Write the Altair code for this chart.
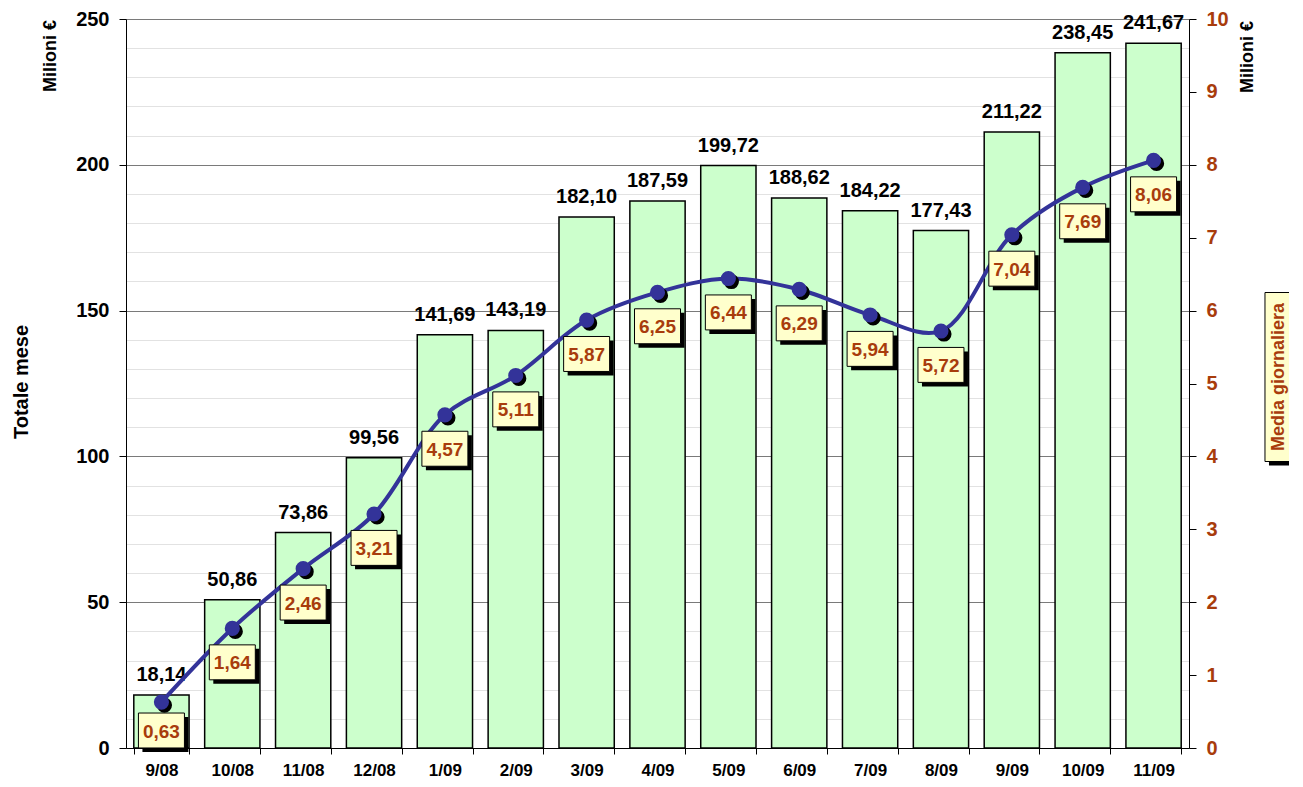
import altair as alt
import pandas as pd

# ---- data ----
mesi = ["9/08", "10/08", "11/08", "12/08", "1/09", "2/09", "3/09", "4/09",
        "5/09", "6/09", "7/09", "8/09", "9/09", "10/09", "11/09"]
totale = [18.14, 50.86, 73.86, 99.56, 141.69, 143.19, 182.10, 187.59,
          199.72, 188.62, 184.22, 177.43, 211.22, 238.45, 241.67]
media = [0.63, 1.64, 2.46, 3.21, 4.57, 5.11, 5.87, 6.25,
         6.44, 6.29, 5.94, 5.72, 7.04, 7.69, 8.06]

left_ticks = list(range(0, 251, 10))
right_ticks = list(range(0, 11))

FONT = "Liberation Sans"
BROWN = "#A83C0C"
BLUE = "#333399"

df = pd.DataFrame({"mese": mesi, "totale": totale, "media": media})
base = alt.Chart(df)

x_ax = alt.Axis(labelAngle=0, labelFont=FONT, labelFontSize=17, labelFontWeight="bold",
                labelColor="black", domainColor="black", domainWidth=1,
                tickColor="black", tickSize=6, tickBand="extent", labelPadding=8,
                grid=False, labelOverlap=False)
x_sc = alt.Scale(paddingInner=0.22, paddingOuter=0.11)
xN = alt.X("mese:N", sort=mesi, title=None, scale=x_sc, axis=x_ax)

yL_sc = alt.Scale(domain=[0, 250], nice=False, zero=True)
yL_ax = alt.Axis(values=left_ticks,
                 labelExpr="datum.value % 50 === 0 ? datum.label : ''",
                 gridColor=alt.condition("datum.value % 50 === 0", alt.value("#7a7a7a"), alt.value("#e2e2e2")),
                 tickColor=alt.condition("datum.value % 50 === 0", alt.value("black"), alt.value("transparent")),
                 format="d", tickSize=7, labelPadding=10, labelFont=FONT, labelFontSize=20,
                 labelFontWeight="bold", labelColor="black", domainColor="black",
                 labelOverlap=False, labelFlush=False)
yL = alt.Y("totale:Q", title=None, scale=yL_sc, axis=yL_ax)

bars = base.mark_bar(fill="#CCFFCC", stroke="black", strokeWidth=1.5).encode(x=xN, y=yL)

bar_text = base.transform_calculate(
    lab="replace(format(datum.totale, '.2f'), '.', ',')"
).mark_text(dy=-10, baseline="bottom", font=FONT, fontSize=20, fontWeight="bold",
            color="black").encode(x=xN, y=yL, text="lab:N")

def title_text(txt, px, py, size, color):
    return alt.Chart(pd.DataFrame({"t": [txt]})).mark_text(
        angle=270, align="center", baseline="middle", font=FONT, fontSize=size,
        fontWeight="bold", color=color
    ).encode(x=alt.value(px), y=alt.value(py), text="t:N")

t_mil_left = title_text("Milioni €", -75, 37, 18, "black")
t_totale = title_text("Totale mese", -104, 363, 20, "black")

left = alt.layer(bars, bar_text, t_mil_left, t_totale)

yR_sc = alt.Scale(domain=[0, 10], nice=False, zero=True)
yR_ax = alt.Axis(orient="right", values=right_ticks, format="d", grid=False, tickSize=7,
                 tickColor="black", domainColor="black", labelPadding=10,
                 labelFont=FONT, labelFontSize=20, labelFontWeight="bold",
                 labelColor=BROWN, labelOverlap=False, labelFlush=False)
yR = alt.Y("media:Q", title=None, scale=yR_sc, axis=yR_ax)
yLab = alt.Y("ly:Q", title=None, scale=yR_sc, axis=yR_ax)

line = base.mark_line(color=BLUE, strokeWidth=4, interpolate="catmull-rom").encode(x=xN, y=yR)
pt_shadow = base.mark_circle(size=230, color="black", opacity=1, xOffset=3, yOffset=3).encode(
    x=xN, y=yR)
pts = base.mark_circle(size=230, color=BLUE, opacity=1).encode(x=xN, y=yR)

BOX = "M-1,-0.76L1,-0.76L1,0.76L-1,0.76Z"
lab_base = base.transform_calculate(
    ly="max(datum.media - 0.465, 0.24)",
    lab="replace(format(datum.media, '.2f'), '.', ',')",
)
box_shadow = lab_base.mark_point(shape=BOX, size=2116, filled=True, color="black", opacity=1,
                                 xOffset=4, yOffset=4).encode(x=xN, y=yLab)
box = lab_base.mark_point(shape=BOX, size=2116, filled=True, fill="#FFFFCC", stroke="black",
                          strokeWidth=1, opacity=1).encode(x=xN, y=yLab)
box_text = lab_base.mark_text(font=FONT, fontSize=19, fontWeight="bold", color=BROWN,
                              baseline="middle", dy=1).encode(x=xN, y=yLab, text="lab:N")

TALL = "M-0.166,-1L0.166,-1L0.166,1L-0.166,1Z"
side = pd.DataFrame({"t": ["Media giornaliera"]})
side_shadow = alt.Chart(side).mark_point(shape=TALL, size=28561, filled=True, color="black",
                                         opacity=1).encode(x=alt.value(1157), y=alt.value(362))
side_box = alt.Chart(side).mark_point(shape=TALL, size=28561, filled=True, fill="#FFFFCC",
                                      stroke="black", strokeWidth=1, opacity=1).encode(
    x=alt.value(1153), y=alt.value(358))
side_text = title_text("Media giornaliera", 1153, 358, 18, BROWN)
t_mil_right = title_text("Milioni €", 1122, 38, 18, "black")

right = alt.layer(line, pt_shadow, pts, box_shadow, box, box_text,
                  side_shadow, side_box, side_text, t_mil_right)

chart = alt.layer(left, right).resolve_scale(y="independent").properties(
    width=1063, height=729,
    padding={"left": 118, "top": 11, "right": 100, "bottom": 30},
    autosize=alt.AutoSizeParams(type="none"),
).configure_view(stroke=None)

chart.save("out.html", embed_options={"renderer": "svg", "actions": False})
